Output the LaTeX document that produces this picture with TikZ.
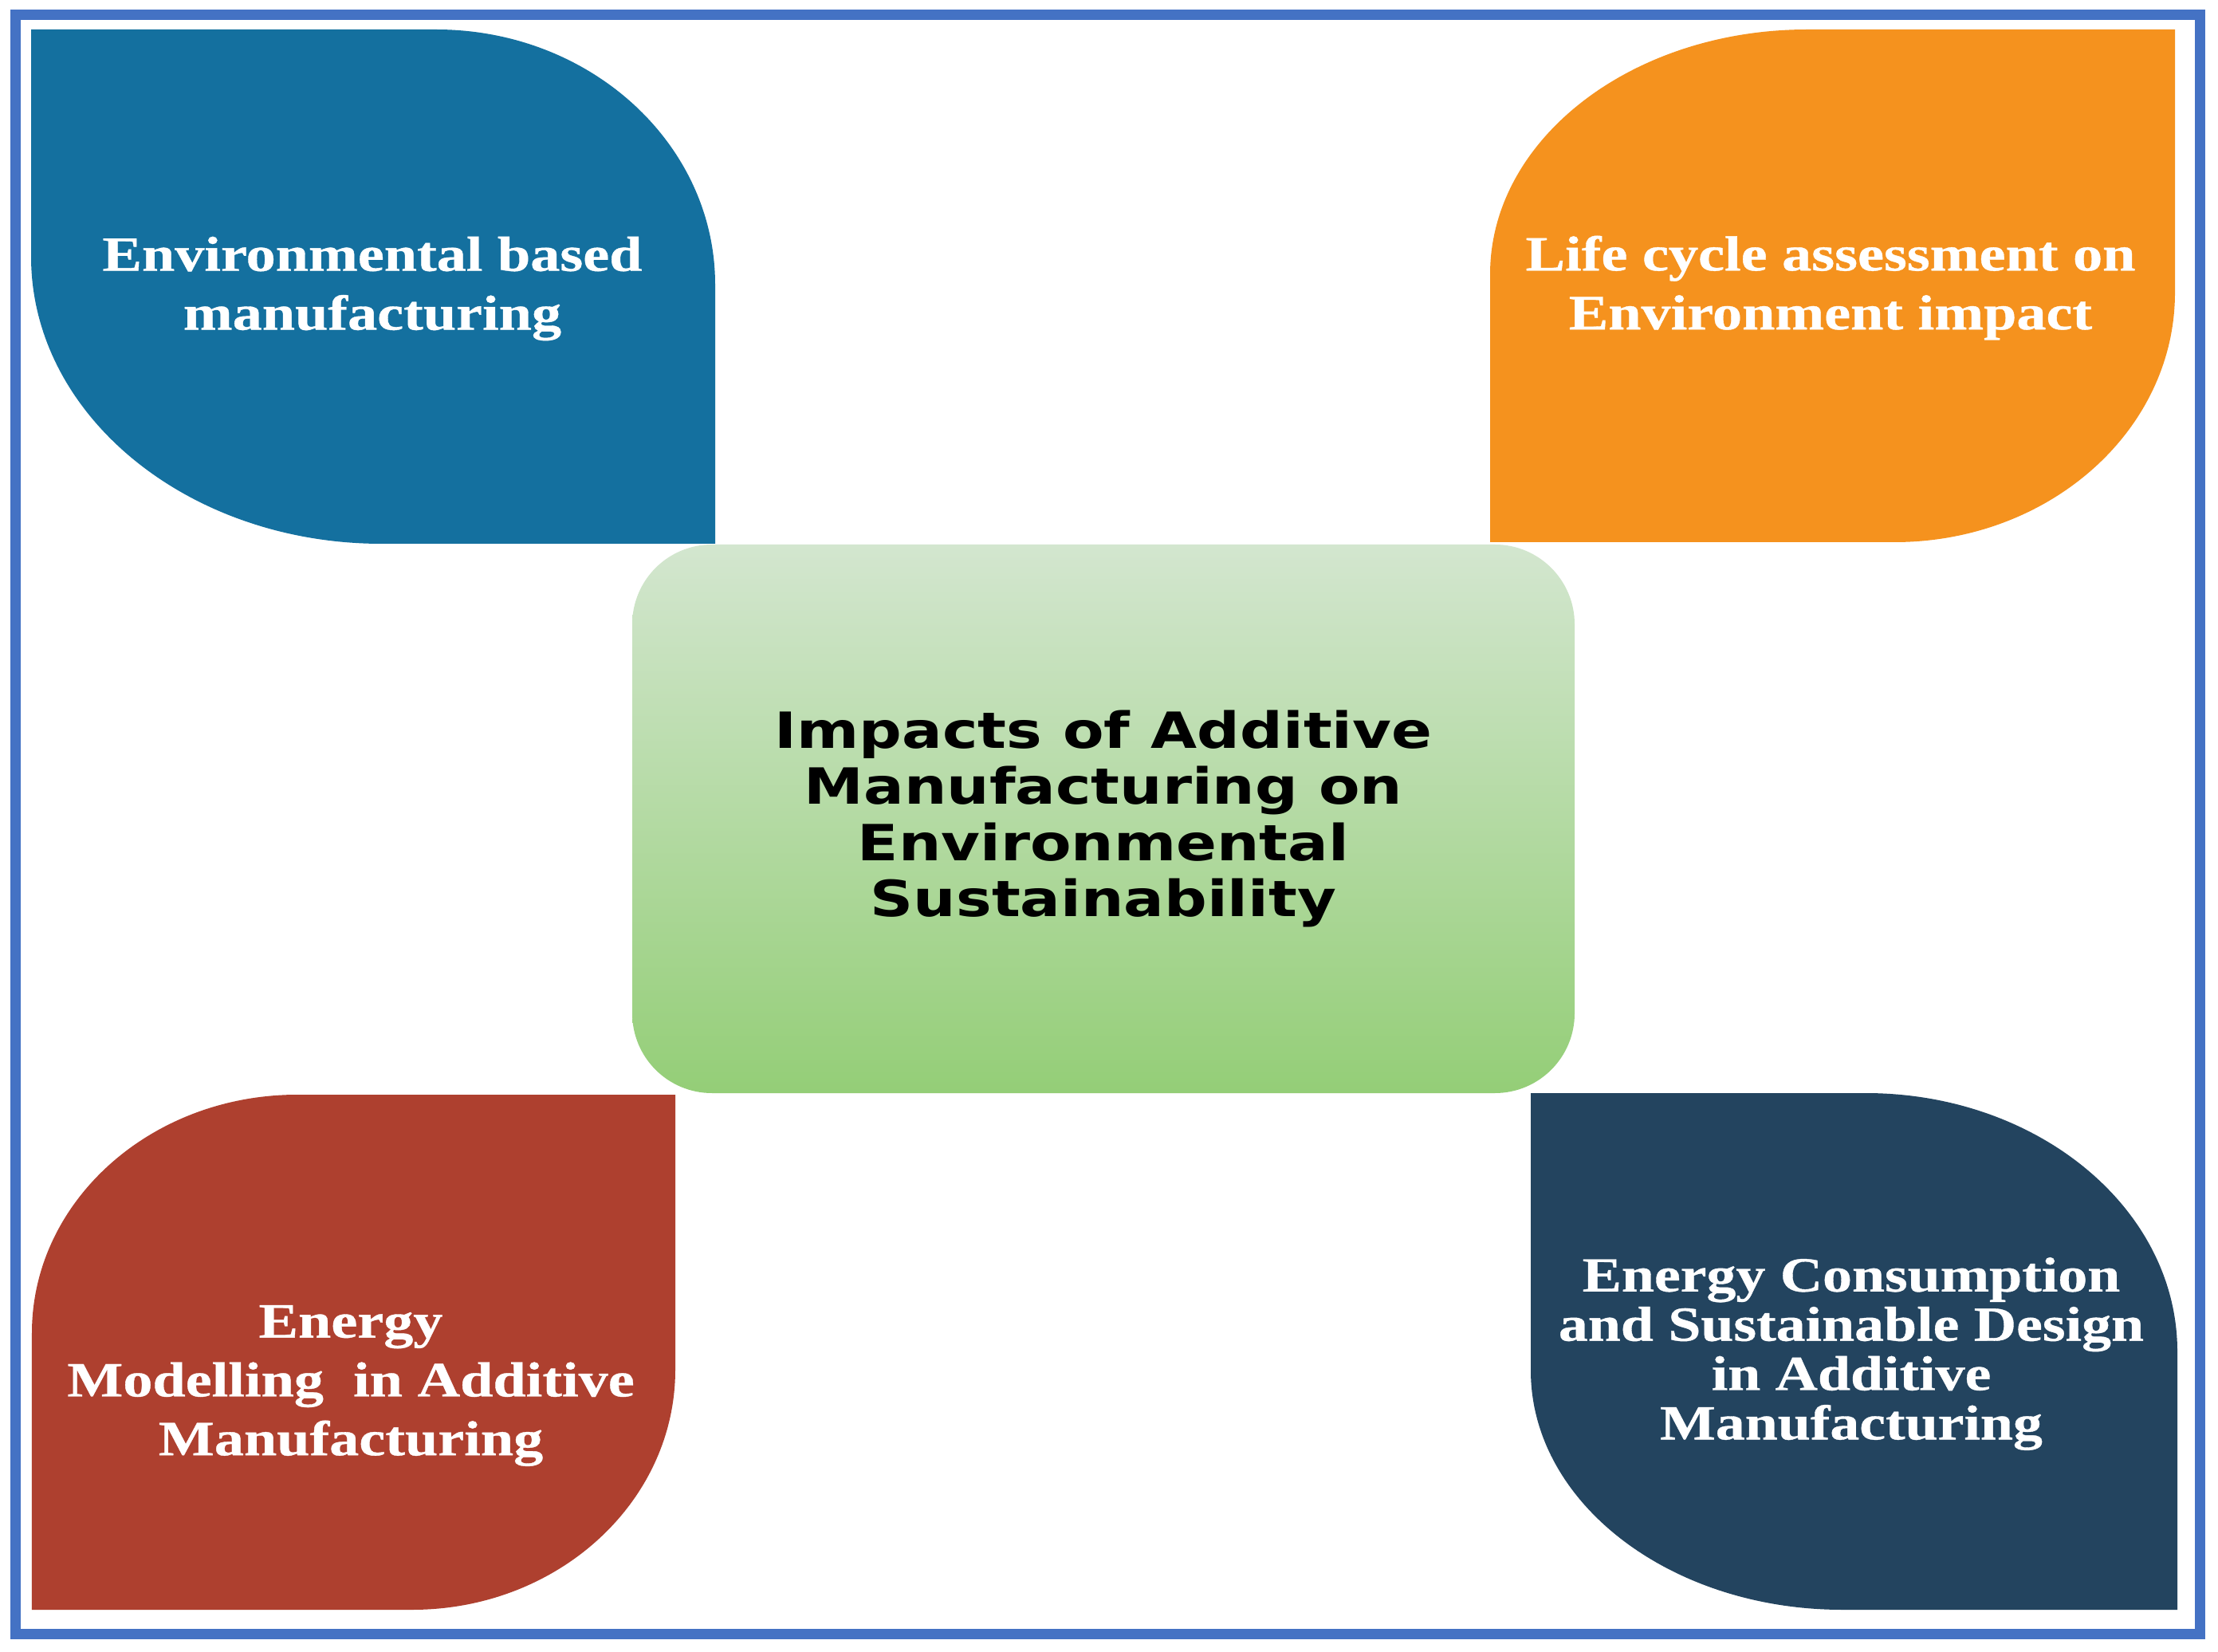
\documentclass[tikz,border=0pt]{standalone}
\usepackage{fontspec}
\setmainfont{Liberation Serif}
\newfontfamily\leaffont[FakeStretch=1.2,BoldFeatures={FakeBold=0.6}]{Liberation Serif}
\newfontfamily\hubfont[FakeStretch=1.2]{DejaVu Sans}
\usetikzlibrary{positioning}
\definecolor{frameblue}{HTML}{4472C4}
\definecolor{leafblue}{HTML}{14709F}
\definecolor{leaforange}{HTML}{F5921E}
\definecolor{leafred}{HTML}{AE402F}
\definecolor{leafnavy}{HTML}{23445F}
\definecolor{hubtop}{HTML}{D3E6CF}
\definecolor{hubbot}{HTML}{94CE77}

\begin{document}
\begin{tikzpicture}[
  leaftext/.style={text=white,align=center,inner sep=0pt,font=\leaffont\bfseries\fontsize{17.6}{21}\selectfont},
  hub/.style={rounded corners=1.0cm,top color=hubtop,bottom color=hubbot,align=center,minimum width=11.82cm,minimum height=6.88cm,font=\hubfont\bfseries\fontsize{17.8}{20}\selectfont}]
  \fill[white] (0,0) rectangle (27.82,20.71);
  \useasboundingbox (0,0) rectangle (27.82,20.71);
  \draw[frameblue,line width=0.13cm] (0.19,0.22) rectangle (27.59,20.52);
  % four leaves
  \fill[leafblue] (0.39,20.34) -- (5.47,20.34) arc[start angle=90,end angle=0,x radius=3.5,y radius=3.2]
    -- (8.97,13.89) -- (4.79,13.89) arc[start angle=270,end angle=180,x radius=4.4,y radius=3.6] -- cycle;
  \fill[leaforange] (27.28,20.34) -- (27.28,17.04) arc[start angle=0,end angle=-90,x radius=3.52,y radius=3.13]
    -- (18.69,13.91) -- (18.69,17.27) arc[start angle=180,end angle=90,x radius=3.98,y radius=3.07] -- cycle;
  \fill[leafred] (8.47,6.98) -- (8.47,3.53) arc[start angle=0,end angle=-90,x radius=3.30,y radius=3.01]
    -- (0.40,0.52) -- (0.40,3.99) arc[start angle=180,end angle=90,x radius=3.33,y radius=2.99] -- cycle;
  \fill[leafnavy] (19.20,7.00) -- (23.40,7.00) arc[start angle=90,end angle=0,x radius=3.91,y radius=3.24]
    -- (27.31,0.52) -- (23.11,0.52) arc[start angle=270,end angle=180,x radius=3.91,y radius=3.0] -- cycle;
  % centre and labels
  \node[hub] (hub) at (13.84,10.44) {Impacts of Additive\\Manufacturing on\\Environmental\\Sustainability};
  \node[leaftext] (envman) at (4.67,17.09) {Environmental based\\manufacturing};
  \node[leaftext] (lca) at (22.96,17.10) {Life cycle assessment on\\Environment impact};
  \node[leaftext] (enmod) at (4.40,3.33) {Energy\\Modelling\ \ in Additive\\Manufacturing};
  \node[leaftext,font=\leaffont\bfseries\fontsize{17.5}{17.6}\selectfont] (encons) at (23.22,3.73)
    {Energy Consumption\\and Sustainable Design\\in Additive\\Manufacturing};
\end{tikzpicture}
\end{document}
